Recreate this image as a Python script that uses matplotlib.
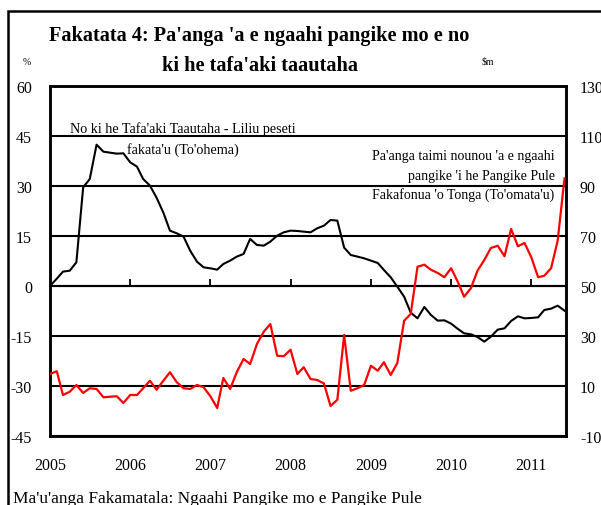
import matplotlib
matplotlib.use("Agg")
import matplotlib.pyplot as plt
import matplotlib.patches as patches
import pandas as pd

plt.rcParams['font.family'] = ['Liberation Serif', 'DejaVu Serif']

# ------------------ Datos ------------------
meses = pd.date_range("2005-01-01", periods=78, freq="MS")

# No ki he tafa'aki taautaha - liliu peseti fakata'u (%)
no_taautaha = [0, 2.2, 4.3, 4.6, 7.1, 29.6, 32.1, 42.4, 40.3, 40.0,
               39.7, 39.8, 37.1, 35.8, 32.1, 30.1, 26.5, 22.0, 16.6, 15.8,
               14.8, 10.6, 7.3, 5.6, 5.3, 4.9, 6.6, 7.6, 8.8, 9.6,
               14.1, 12.3, 12.1, 13.3, 15.1, 16.1, 16.6, 16.5, 16.3, 16.1,
               17.3, 18.1, 19.8, 19.6, 11.5, 9.3, 8.8, 8.3, 7.6, 6.9,
               4.8, 2.6, -0.2, -3.2, -8.0, -9.7, -6.3, -8.7, -10.4, -10.3,
               -11.3, -12.9, -14.2, -14.5, -15.3, -16.7, -15.2, -13.1, -12.7, -10.5,
               -9.1, -9.7, -9.6, -9.4, -7.2, -6.8, -5.9, -7.4]

# Pa'anga taimi nounou 'a e ngaahi pangike 'i he PPF ($m)
paanga_nounou = [14.8, 15.9, 6.4, 7.7, 10.4, 7.2, 9.1, 8.8, 5.5, 5.7,
                 5.9, 3.2, 6.4, 6.4, 9.1, 12.1, 8.5, 12.1, 15.5, 11.5,
                 9.1, 8.8, 10.4, 9.5, 5.9, 1.2, 13.2, 8.8, 15.5, 20.8,
                 18.8, 26.8, 31.7, 34.8, 22.1, 21.9, 24.5, 14.8, 17.5, 12.8,
                 12.4, 11.0, 2.0, 4.5, 30.4, 8.1, 9.1, 10.4, 18.1, 16.1,
                 19.5, 14.4, 19.2, 36.1, 38.8, 57.7, 58.5, 56.5, 55.2, 53.5,
                 57.1, 51.5, 45.7, 49.1, 56.1, 60.4, 65.2, 66.1, 61.9, 72.8,
                 65.9, 67.2, 61.5, 53.5, 54.1, 57.1, 68.1, 93.0]

ticks_izq = [60, 45, 30, 15, 0, -15, -30, -45]
ticks_der = [130, 110, 90, 70, 50, 30, 10, -10]
anios = ["2005", "2006", "2007", "2008", "2009", "2010", "2011"]

# ------------------ Figura ------------------
fig = plt.figure(figsize=(6.01, 5.06), dpi=100)
ax = fig.add_axes([0.0832, 0.1364, 0.8586, 0.6917])

# marco exterior
fig.patches.append(patches.Rectangle((0.0133, -0.1), 1.2, 1.076, transform=fig.transFigure,
                                     fill=False, edgecolor="black", linewidth=1.8))

ax.plot(meses, no_taautaha, color="black", linewidth=1.5, zorder=3)
ax.set_ylim(-45, 60)
ax.set_yticks(ticks_izq)
ax.set_yticklabels([str(t) for t in ticks_izq])
ax.yaxis.grid(True, color="black", linewidth=1.5)
ax.set_axisbelow(True)
ax.tick_params(axis="y", length=0, pad=13, labelsize=11.5)

x_ini = pd.Timestamp("2005-01-01")
x_fin = pd.Timestamp("2011-06-08")
ax.set_xlim(x_ini, x_fin)
ticks_x = [pd.Timestamp(f"{a}-01-01") for a in anios]
ax.set_xticks(ticks_x)
ax.set_xticklabels(anios)
ax.tick_params(axis="x", length=0, pad=15, labelsize=11.5)

# eje horizontal en cero con marcas hacia arriba
cero = ax.secondary_xaxis(45 / 105)
cero.set_xticks(ticks_x[1:])
cero.tick_params(axis="x", direction="in", length=5, width=1.3, labelbottom=False)
cero.spines["bottom"].set_linewidth(1.5)

for s in ax.spines.values():
    s.set_linewidth(1.8)

ax2 = ax.twinx()
ax2.plot(meses, paanga_nounou, color="#ff0000", linewidth=1.6, zorder=3)
ax2.set_ylim(-10, 130)
ax2.set_yticks(ticks_der)
ax2.set_yticklabels([str(t) for t in ticks_der])
ax2.tick_params(axis="y", length=0, pad=10, labelsize=11.5)
ax2.set_xlim(x_ini, x_fin)
for s in ax2.spines.values():
    s.set_linewidth(1.8)

# ------------------ Textos ------------------
fig.text(0.432, 0.929, "Fakatata 4: Pa'anga 'a e ngaahi pangike mo e no", ha="center", va="center",
         fontsize=14.6, fontweight="bold")
fig.text(0.432, 0.870, "ki he tafa'aki taautaha", ha="center", va="center",
         fontsize=14.6, fontweight="bold")
fig.text(0.045, 0.877, "%", ha="center", va="center", fontsize=7)
fig.text(0.812, 0.877, "$m", ha="center", va="center", fontsize=7)

fig.text(0.305, 0.745, "No ki he Tafa'aki Taautaha - Liliu peseti", ha="center", va="center", fontsize=10.2)
fig.text(0.305, 0.703, "fakata'u (To'ohema)", ha="center", va="center", fontsize=10.2)

fig.text(0.923, 0.690, "Pa'anga taimi nounou 'a e ngaahi", ha="right", va="center", fontsize=10)
fig.text(0.923, 0.652, "pangike 'i he Pangike Pule", ha="right", va="center", fontsize=10)
fig.text(0.923, 0.615, "Fakafonua 'o Tonga (To'omata'u)", ha="right", va="center", fontsize=10)

fig.text(0.022, 0.013, "Ma'u'anga Fakamatala: Ngaahi Pangike mo e Pangike Pule", ha="left", va="center",
         fontsize=12.4)

fig.savefig("out.png", dpi=100)
